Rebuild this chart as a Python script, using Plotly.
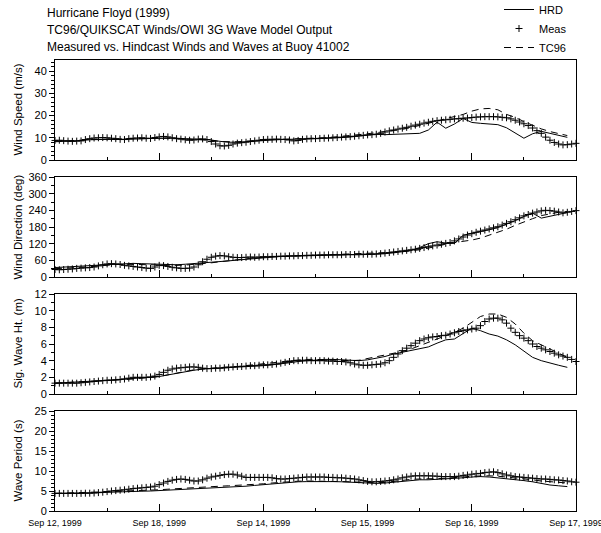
import plotly.graph_objects as go

# ---------------- data ----------------
# time in hours after Sep 12, 1999 00:00
meas_hours = list(range(0, 121))
model_hours = list(range(0, 119, 2))

tick_hours = [0, 24, 48, 72, 96, 120]
tick_labels = ["Sep 12, 1999", "Sep 18, 1999", "Sep 14, 1999",
               "Sep 15, 1999", "Sep 16, 1999", "Sep 17, 1999"]

ws_meas = [8.8,8.9,8.7,8.5,8.4,8.5,8.6,9.2,9.6,9.9,
           10.0,10.1,10.0,9.8,9.6,9.3,9.2,9.6,9.8,9.9,
           10.0,9.8,9.7,10.1,10.4,10.6,10.4,10.0,9.6,9.4,
           9.1,8.9,9.0,9.4,9.5,9.2,8.3,7.2,6.4,6.3,
           6.6,7.2,7.6,7.8,8.0,8.3,8.6,8.9,9.2,9.3,
           9.3,9.4,9.3,9.2,9.0,8.6,8.8,9.3,9.5,9.6,
           9.6,9.7,9.8,9.9,10.0,10.1,10.3,10.4,10.5,10.7,
           10.9,11.1,11.3,11.4,11.6,12.0,12.6,13.1,13.5,13.9,
           14.3,14.7,15.2,15.7,16.1,16.6,17.0,17.4,17.7,17.9,
           18.1,18.3,18.5,18.6,18.8,18.9,19.1,19.3,19.4,19.5,
           19.5,19.5,19.4,19.2,19.0,18.5,17.9,17.1,16.3,15.5,
           14.4,13.2,12.0,10.3,8.9,7.9,7.2,6.8,6.9,7.2,
           7.5]
ws_hrd = [8.2,8.3,8.5,8.8,9.1,9.3,9.3,9.2,9.2,9.4,
          9.5,9.7,9.8,9.9,9.8,9.6,9.5,9.3,9.0,8.4,
          8.0,8.0,8.3,8.6,8.9,9.1,9.2,9.3,9.4,9.5,
          9.6,9.7,9.9,10.1,10.4,10.8,11.1,11.6,11.4,11.5,
          11.6,11.8,12.0,13.5,17.0,14.3,16.2,18.7,16.9,16.5,
          16.3,15.9,14.5,12.0,9.8,11.8,12.9,12.0,11.0,10.2]
ws_tc96 = [8.4,8.5,8.7,8.9,9.2,9.3,9.3,9.3,9.3,9.5,
           9.6,9.8,9.9,9.9,9.7,9.5,9.3,9.1,8.8,8.3,
           8.1,8.2,8.5,8.8,9.0,9.2,9.3,9.4,9.5,9.6,
           9.8,10.0,10.3,10.6,11.0,11.4,11.8,12.3,12.7,13.2,
           13.8,14.6,15.5,16.5,17.5,18.6,19.6,20.5,22.0,23.0,
           23.2,22.6,20.5,19.2,17.3,15.5,14.0,12.8,11.8,11.0]

wd_meas = [27,26,27,28,29,31,32,33,34,36,
           40,44,47,48,47,45,42,40,38,36,
           34,32,31,36,42,41,38,35,33,31,
           31,32,36,44,55,64,71,75,77,76,
           73,71,70,70,71,72,71,72,73,73,
           74,74,75,75,76,76,77,77,78,78,
           79,79,79,80,80,80,80,81,81,81,
           82,82,82,82,83,84,86,88,90,92,
           94,96,98,100,103,106,109,112,115,118,
           121,124,130,137,144,151,156,161,165,169,
           173,177,181,187,193,199,206,213,220,225,
           230,234,238,240,239,237,234,231,233,236,
           239]
wd_hrd = [34,35,37,39,41,43,45,47,48,49,
          48,47,45,43,44,46,48,50,52,55,
          58,61,64,67,70,72,74,75,76,77,
          77,78,79,79,80,80,81,82,84,87,
          90,95,106,120,127,122,121,150,158,163,
          170,178,190,203,218,230,212,219,226,232]
wd_tc96 = [30,31,33,35,37,40,43,45,46,46,
           45,44,43,42,42,43,45,48,51,55,
           59,63,66,69,71,73,74,75,76,77,
           78,79,80,81,82,83,84,85,87,89,
           91,94,98,104,112,118,124,128,133,140,
           150,160,172,186,199,210,221,228,233,236]

hs_meas = [1.3,1.3,1.3,1.3,1.3,1.3,1.35,1.4,1.45,1.5,
           1.55,1.6,1.65,1.65,1.7,1.75,1.8,1.9,2.0,2.0,
           2.0,2.0,2.05,2.15,2.35,2.6,2.85,3.0,3.1,3.15,
           3.2,3.25,3.25,3.2,3.1,3.05,3.05,3.1,3.1,3.15,
           3.2,3.25,3.3,3.3,3.35,3.4,3.4,3.45,3.5,3.5,
           3.55,3.6,3.7,3.8,3.9,4.0,4.0,4.05,4.05,4.0,
           4.0,4.0,4.0,3.95,3.95,3.9,3.9,3.85,3.75,3.6,
           3.5,3.45,3.45,3.5,3.55,3.6,3.75,4.0,4.4,4.8,
           5.2,5.5,5.8,6.1,6.4,6.6,6.75,6.85,6.9,7.0,
           7.05,7.2,7.35,7.5,7.6,7.7,7.8,7.9,8.2,8.7,
           9.0,9.1,9.1,8.9,8.5,7.9,7.4,7.0,6.7,6.4,
           6.0,5.7,5.5,5.3,5.1,4.9,4.7,4.55,4.4,4.15,
           3.9]
hs_hrd = [1.3,1.35,1.4,1.45,1.5,1.55,1.6,1.7,1.8,1.85,
          1.9,2.0,2.1,2.3,2.5,2.7,2.85,3.0,3.05,3.1,
          3.2,3.25,3.3,3.35,3.4,3.5,3.6,3.75,3.9,4.0,
          4.1,4.15,4.15,4.1,4.05,4.0,4.1,4.3,4.5,4.8,
          5.0,5.2,5.45,5.65,6.1,6.5,6.6,7.2,7.9,7.6,
          7.2,6.95,6.5,5.9,5.1,4.4,4.0,3.7,3.45,3.2]
hs_tc96 = [1.3,1.35,1.4,1.45,1.5,1.55,1.6,1.65,1.75,1.8,
           1.9,2.0,2.1,2.3,2.5,2.7,2.9,3.0,3.1,3.15,
           3.25,3.3,3.4,3.5,3.6,3.7,3.85,4.0,4.1,4.15,
           4.15,4.1,4.05,4.0,4.0,4.05,4.25,4.5,4.7,4.9,
           5.1,5.4,5.8,6.2,6.6,7.0,7.4,7.9,8.6,9.3,
           9.6,9.6,9.2,8.4,7.3,6.4,5.9,5.4,4.9,4.4]

tp_meas = [4.4,4.4,4.4,4.4,4.4,4.4,4.4,4.45,4.45,4.5,
           4.6,4.7,4.85,5.0,5.1,5.2,5.3,5.45,5.6,5.7,
           5.8,5.9,6.0,6.2,6.6,7.0,7.4,7.7,7.9,8.0,
           7.9,7.7,7.5,7.5,7.8,8.2,8.5,8.7,8.9,9.1,
           9.2,9.2,9.0,8.7,8.4,8.4,8.4,8.4,8.4,8.4,
           8.3,8.1,8.0,8.0,8.1,8.2,8.3,8.4,8.5,8.5,
           8.5,8.5,8.5,8.4,8.4,8.3,8.3,8.2,8.1,8.0,
           7.8,7.6,7.4,7.3,7.3,7.4,7.5,7.6,7.8,8.0,
           8.3,8.5,8.7,8.8,8.8,8.8,8.8,8.75,8.7,8.6,
           8.6,8.6,8.6,8.7,8.9,9.0,9.2,9.3,9.4,9.6,
           9.7,9.8,9.6,9.3,9.0,8.8,8.6,8.5,8.4,8.3,
           8.2,8.1,8.0,8.0,7.9,7.8,7.75,7.6,7.5,7.3,
           7.2]
tp_hrd = [4.4,4.4,4.45,4.5,4.55,4.6,4.7,4.8,4.85,4.9,
          4.95,5.0,5.1,5.2,5.3,5.45,5.55,5.65,5.7,5.8,
          5.9,6.0,6.2,6.4,6.6,6.8,7.0,7.15,7.3,7.35,
          7.4,7.4,7.35,7.3,7.2,7.1,7.0,6.9,7.0,7.2,
          7.5,7.7,7.8,7.8,7.9,8.0,8.1,8.3,8.5,8.6,
          8.5,8.3,8.0,7.8,7.6,7.3,6.9,6.5,6.3,6.1]
tp_tc96 = [4.4,4.45,4.5,4.55,4.6,4.7,4.8,4.9,5.0,5.05,
           5.1,5.2,5.3,5.45,5.6,5.75,5.9,6.0,6.1,6.2,
           6.3,6.4,6.5,6.65,6.8,7.0,7.2,7.35,7.45,7.5,
           7.5,7.45,7.4,7.35,7.3,7.2,7.1,7.05,7.15,7.4,
           7.7,7.9,8.0,8.0,8.1,8.2,8.3,8.5,8.7,8.8,
           8.8,8.7,8.5,8.3,8.1,7.8,7.5,7.3,7.1,7.0]

panel_titles = ["Wind Speed (m/s)", "Wind Direction (deg)",
                "Sig. Wave Ht. (m)", "Wave Period (s)"]
panel_ranges = [[0, 45], [0, 360], [0, 12], [0, 25]]
panel_dticks = [10, 60, 2, 5]
panel_minor = [2, 30, 1, 1]

title_lines = ["Hurricane Floyd (1999)",
               "TC96/QUIKSCAT Winds/OWI 3G Wave Model Output",
               "Measured vs. Hindcast Winds and Waves at Buoy 41002"]

# ---------------- figure ----------------
W, H = 601, 533
ML, MR, MT, MB = 55, 25, 60, 22
plot_h = H - MT - MB  # 451
panel_px = [(60, 160), (177, 277), (294, 394), (411, 511)]

def py(px):
    return (H - MB - px) / plot_h

def pxx(px):
    return (px - ML) / (W - ML - MR)

fig = go.Figure()
series = [(ws_meas, ws_hrd, ws_tc96), (wd_meas, wd_hrd, wd_tc96),
          (hs_meas, hs_hrd, hs_tc96), (tp_meas, tp_hrd, tp_tc96)]

tickfont = dict(family="Liberation Sans Narrow, Arial Narrow, Liberation Sans, Arial", size=9, color="black")
yfont = dict(family="Liberation Sans, Arial", size=11, color="black")

for i, (meas, hrd, tc) in enumerate(series):
    n = i + 1
    xa = "x" if n == 1 else f"x{n}"
    ya = "y" if n == 1 else f"y{n}"
    show = (i == 0)
    fig.add_trace(go.Scatter(x=model_hours, y=hrd, mode="lines", name="HRD",
                             line=dict(color="black", width=1),
                             xaxis=xa, yaxis=ya, showlegend=show, legendgroup="hrd"))
    fig.add_trace(go.Scatter(x=meas_hours, y=meas, mode="markers", name="Meas",
                             marker=dict(symbol="cross-thin", size=5, color="black",
                                         line=dict(color="black", width=1)),
                             cliponaxis=False,
                             xaxis=xa, yaxis=ya, showlegend=show, legendgroup="meas"))
    fig.add_trace(go.Scatter(x=model_hours, y=tc, mode="lines", name="TC96",
                             line=dict(color="black", width=1, dash="7px,5px"),
                             xaxis=xa, yaxis=ya, showlegend=show, legendgroup="tc96"))

layout = dict(
    width=W, height=H,
    margin=dict(l=ML, r=MR, t=MT, b=MB, autoexpand=False),
    paper_bgcolor="white", plot_bgcolor="white",
    font=dict(family="Liberation Sans, Arial", size=11, color="black"),
    showlegend=True,
    legend=dict(x=pxx(499), xanchor="left", y=py(-5), yanchor="top",
                font=dict(family="Liberation Sans, Arial", size=11, color="black"),
                bgcolor="rgba(0,0,0,0)", itemwidth=30, tracegroupgap=0,
                traceorder="normal"),
)

for i in range(4):
    n = i + 1
    top, bot = panel_px[i]
    dom = [py(bot), py(top)]
    xkey = "xaxis" if n == 1 else f"xaxis{n}"
    ykey = "yaxis" if n == 1 else f"yaxis{n}"
    ya = "y" if n == 1 else f"y{n}"
    xa = "x" if n == 1 else f"x{n}"
    layout[xkey] = dict(
        domain=[0, 1], anchor=ya, range=[0, 120],
        tickmode="array", tickvals=tick_hours, ticktext=tick_labels,
        ticks="inside", ticklen=7, tickwidth=1, tickcolor="black",
        showticklabels=(n == 4), tickfont=tickfont, ticklabeloverflow="allow",
        ticklabelstandoff=3,
        minor=dict(dtick=12, tick0=0, ticks="inside", ticklen=3, tickwidth=1, tickcolor="black"),
        showline=True, linecolor="black", linewidth=1, mirror=True,
        showgrid=False, zeroline=False, fixedrange=True, automargin=False,
    )
    if n != 1:
        layout[xkey]["matches"] = "x"
    layout[ykey] = dict(
        domain=dom, anchor=xa, range=panel_ranges[i],
        dtick=panel_dticks[i], tick0=0,
        ticks="outside", ticklen=5, tickwidth=1, tickcolor="black",
        tickfont=yfont,
        minor=dict(dtick=panel_minor[i], ticks="outside", ticklen=3, tickwidth=1, tickcolor="black"),
        showline=True, linecolor="black", linewidth=1, mirror=True,
        showgrid=False, zeroline=False, fixedrange=True, automargin=False,
    )
    # right-hand inside ticks
    rkey = f"yaxis{n + 4}"
    layout[rkey] = dict(
        overlaying=ya, anchor=xa, side="right", range=panel_ranges[i],
        dtick=panel_dticks[i], tick0=0,
        ticks="inside", ticklen=4, tickwidth=1, tickcolor="black",
        showticklabels=False,
        minor=dict(dtick=panel_minor[i], ticks="inside", ticklen=3, tickwidth=1, tickcolor="black"),
        showline=False, showgrid=False, zeroline=False, fixedrange=True, automargin=False,
    )

fig.update_layout(**layout)

annotations = []
for k, line in enumerate(title_lines):
    annotations.append(dict(text=line, xref="paper", yref="paper",
                            x=pxx(45), y=py([13, 30, 47][k]), xanchor="left", yanchor="middle",
                            showarrow=False,
                            font=dict(family="Liberation Sans, Arial", size=12, color="black")))
for i, t in enumerate(panel_titles):
    top, bot = panel_px[i]
    annotations.append(dict(text=t, xref="paper", yref="paper",
                            x=pxx(17.5), y=py((top + bot) / 2), xanchor="center", yanchor="middle",
                            textangle=-90, showarrow=False,
                            font=dict(family="Liberation Sans, Arial", size=11.5, color="black")))
fig.update_layout(annotations=annotations)

fig.write_html("out.html", config={"displayModeBar": False},
               post_script="document.body.style.margin='0px';")
